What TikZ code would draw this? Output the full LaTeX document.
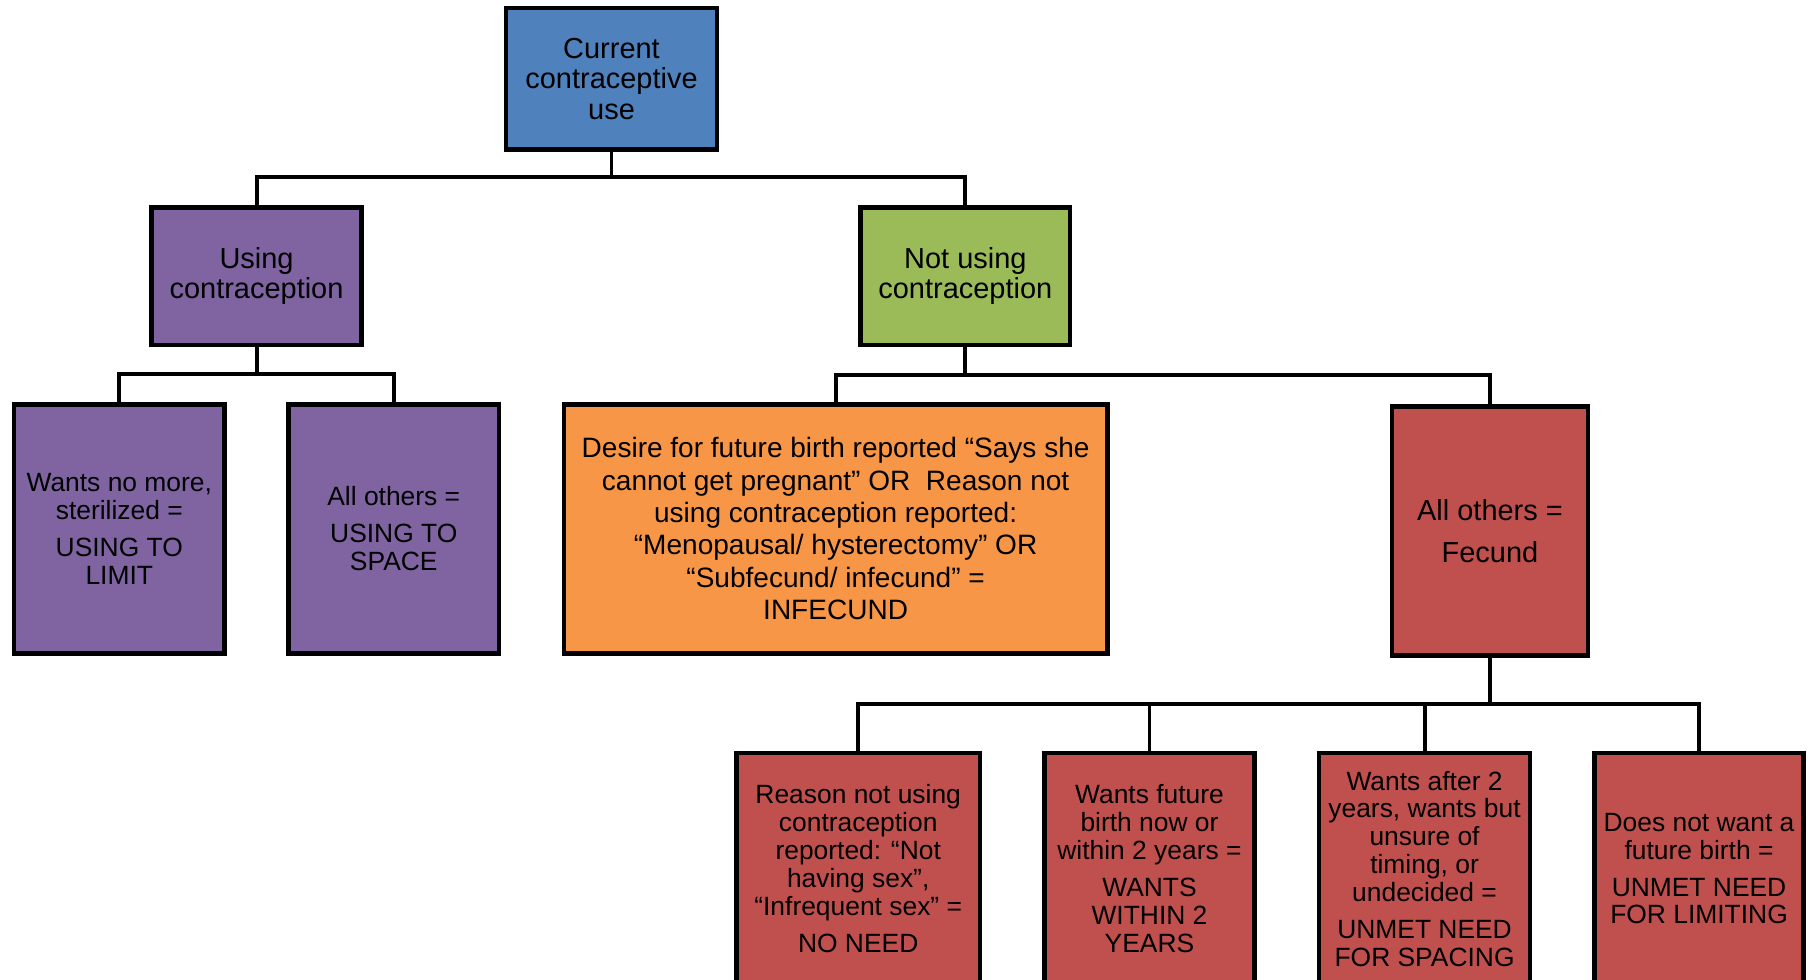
\documentclass[tikz,border=0pt]{standalone}
\usepackage{fontspec}
\setmainfont{Liberation Sans}

\definecolor{blueacc}{HTML}{4F81BD}
\definecolor{purpleacc}{HTML}{8064A2}
\definecolor{greenacc}{HTML}{9BBB59}
\definecolor{orangeacc}{HTML}{F79646}
\definecolor{redacc}{HTML}{C0504D}

\tikzset{
  box/.style={draw, line width=2pt, align=center, inner sep=2pt,
    font=\fontsize{12.5}{13.2}\selectfont},
  leafbox/.style={box, font=\fontsize{11.4}{12}\selectfont},
  link/.style={line width=1.7pt},
}

\begin{document}
\begin{tikzpicture}[x=0.5pt,y=-0.5pt]

\useasboundingbox (0,0) rectangle (1568,846) ;
\clip (0,0) rectangle (1568,846) ;

% top level
\node[box, fill=blueacc, minimum width=91pt, minimum height=61pt] (cur) at (528,68) {Current\\contraceptive\\use} ;

\node[box, fill=purpleacc, minimum width=90.5pt, minimum height=59.5pt] (use) at (221.5,238.5) {Using\\contraception} ;
\node[box, fill=greenacc, minimum width=90.5pt, minimum height=59.5pt] (nonuse) at (833.5,238.5) {Not using\\contraception} ;

% second level
\node[leafbox, fill=purpleacc, minimum width=91pt, minimum height=107.5pt] (limit) at (103,456.5) {Wants no more,\\sterilized =\\[4pt]USING TO\\LIMIT} ;
\node[leafbox, fill=purpleacc, minimum width=91pt, minimum height=107.5pt] (space) at (340,456.5) {All others =\\[4pt]USING TO\\SPACE} ;

\node[box, fill=orangeacc, minimum width=234.5pt, minimum height=107.5pt, font=\fontsize{12.1}{14}\selectfont] (infec) at (721.5,456.5) {Desire for future birth reported “Says she\\cannot get pregnant” OR\ \ Reason not\\using contraception reported:\\“Menopausal/ hysterectomy” OR\\“Subfecund/ infecund” =\\INFECUND} ;
\node[box, fill=redacc, minimum width=84.5pt, minimum height=107.5pt, font=\fontsize{12.5}{14}\selectfont] (fec) at (1286.5,458.5) {All others =\\[4pt]Fecund} ;

% third level
\node[leafbox, fill=redacc, minimum width=105pt, minimum height=100pt] (noneed) at (741,750) {Reason not using\\contraception\\reported: “Not\\having sex”,\\“Infrequent sex” =\\[4pt]NO NEED} ;
\node[leafbox, fill=redacc, minimum width=90.5pt, minimum height=100pt] (within) at (992.5,750) {Wants future\\birth now or\\within 2 years =\\[4pt]WANTS\\WITHIN 2\\YEARS} ;
\node[leafbox, fill=redacc, minimum width=91pt, minimum height=100pt] (spacing) at (1230,750) {Wants after 2\\years, wants but\\unsure of\\timing, or\\undecided =\\[4pt]UNMET NEED\\FOR SPACING} ;
\node[leafbox, fill=redacc, minimum width=90pt, minimum height=100pt] (limiting) at (1467,750) {Does not want a\\future birth =\\[4pt]UNMET NEED\\FOR LIMITING} ;

% connectors
\draw[link] (cur.south) -- ++(0,22) coordinate (jcur) ;
\draw[link] (use.north) |- (jcur) -| (nonuse.north) ;

\draw[link] (use.south) -- ++(0,23) coordinate (juse) ;
\draw[link] (limit.north) |- (juse) -| (space.north) ;

\draw[link] (nonuse.south) -- ++(0,24) coordinate (jnon) ;
\draw[link] (infec.north) |- (jnon) -| (fec.north) ;

\draw[link] (fec.south) -- ++(0,40) coordinate (jfec) ;
\draw[link] (noneed.north) |- (jfec) -| (limiting.north) ;
\draw[link] (within.north) -- (within.north |- jfec) ;
\draw[link] (spacing.north) -- (spacing.north |- jfec) ;

\end{tikzpicture}
\end{document}
